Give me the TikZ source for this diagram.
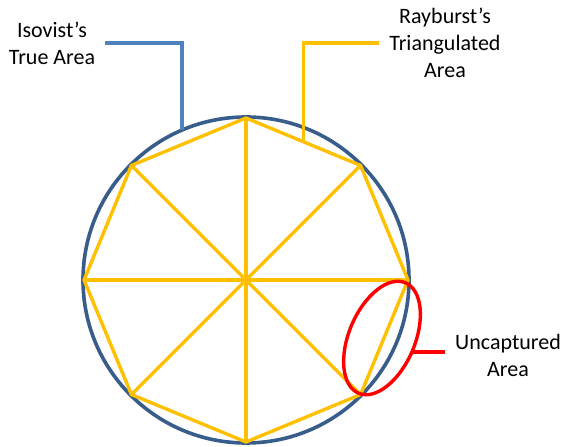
\documentclass[tikz,border=0pt]{standalone}
\usepackage{fontspec}
\setmainfont{Carlito}
\usetikzlibrary{calc}
\definecolor{isoblue}{HTML}{385D8A}
\definecolor{leadblue}{HTML}{4F81BD}
\definecolor{rayyellow}{HTML}{FFC000}
\definecolor{gapred}{HTML}{FF0000}

\begin{document}
\begin{tikzpicture}[x=1pt,y=1pt,
    lbl/.style={align=center,font=\fontsize{22}{27}\selectfont,inner sep=0pt},
    ray/.style={draw=rayyellow,line width=3.4pt},
    lead/.style={line width=3.4pt}]
  \useasboundingbox (0,0) rectangle (566,447);
  \coordinate (o) at (246,167);
  \draw[isoblue,line width=3.6pt] (o) circle [radius=163];
  % triangulated octagon
  \foreach \i in {0,...,7}
    \coordinate (v\i) at ($(o)+(\i*45:162)$);
  \draw[ray,line join=round] (v0) \foreach \i in {1,...,7} {-- (v\i)} -- cycle;
  \foreach \i in {0,...,3} {
    \pgfmathtruncatemacro\j{\i+4}
    \draw[ray] (v\i) -- (v\j);
  }
  % uncaptured area
  \coordinate (gc) at (382,109);
  \draw[gapred,line width=3.4pt,rotate around={67:(gc)}] (gc) ellipse [x radius=60,y radius=33];
  % labels
  \node[lbl] (iso) at (52,404) {Isovist’s\\True Area};
  \node[lbl] (rb) at (445,404) {Rayburst’s\\Triangulated\\Area};
  \node[lbl] (unc) at (508,92) {Uncaptured\\Area};
  \coordinate (isotip) at ($(o)+(113.1:163)$);
  \coordinate (rbtip) at ($(v1)!0.5!(v2)$);
  \coordinate (gaptip) at (411,95);
  \draw[lead,leadblue] ([xshift=10pt]iso.east) -| (isotip);
  \draw[lead,rayyellow] ([xshift=-10pt]rb.west) -| (rbtip);
  \draw[lead,gapred] (gaptip) -- ([xshift=-10pt]unc.west |- gaptip);
\end{tikzpicture}
\end{document}
